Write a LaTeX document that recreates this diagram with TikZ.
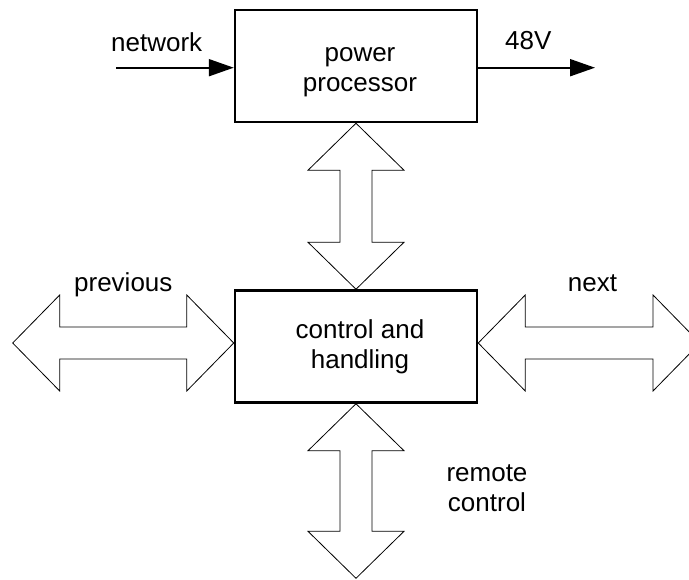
\documentclass[tikz,border=0pt]{standalone}
\usepackage{fontspec}
\setmainfont{Liberation Sans}
\usetikzlibrary{calc,arrows.meta}

\tikzset{
  block/.style={draw=black, line width=2.5pt, minimum width=242pt, minimum height=112pt, inner sep=0pt},
  lbl/.style={font=\fontsize{26}{30}\selectfont, inner sep=0pt, align=center},
  flow/.style={line width=2pt, -{Triangle[length=25pt,width=17pt]}},
  fat/.style={draw=black, line width=0.8pt, fill=white, line join=miter},
}

% Hollow double-headed arrow from #1 to #2; #3 prefixes helper coordinates
\newcommand\fatarrowpath[3]{%
  \coordinate (#3a) at ($(#1)!47pt!(#2)$);
  \coordinate (#3b) at ($(#2)!47pt!(#1)$);
  \draw[fat] (#1) -- ($(#3a)!48pt!90:(#2)$) -- ($(#3a)!16pt!90:(#2)$)
    -- ($(#3b)!16pt!-90:(#1)$) -- ($(#3b)!48pt!-90:(#1)$) -- (#2)
    -- ($(#3b)!48pt!90:(#1)$) -- ($(#3b)!16pt!90:(#1)$)
    -- ($(#3a)!16pt!-90:(#2)$) -- ($(#3a)!48pt!-90:(#2)$) -- cycle;
}

\begin{document}
\begin{tikzpicture}[x=1pt,y=-1pt]
\useasboundingbox (0,0) rectangle (689,580);
\clip (0,0) rectangle (689,580);

% the two blocks
\node[block] (pp) at (356,66) {};
\node[block] (ch) at (356,346.5) {};

% free ends of the connectors
\coordinate (netin) at (116,67.7);
\coordinate (vout) at (595,67.7);
\coordinate (prevend) at (12.7,343);
\coordinate (nextend) at (700,343);
\coordinate (chw) at (prevend -| ch.west);
\coordinate (che) at (nextend -| ch.east);
\coordinate (remend) at (356,578.3);

% power flow
\draw[flow] (netin) -- (netin -| pp.west);
\draw[flow] (netin -| pp.east) -- (vout);

% bidirectional data links
\fatarrowpath{prevend}{chw}{l}
\fatarrowpath{che}{nextend}{r}
\fatarrowpath{pp.south}{ch.north}{t}
\fatarrowpath{ch.south}{remend}{b}

% redraw block borders on top
\node[block] at (pp) {};
\node[block] at (ch) {};

% labels
\node[lbl] (pptext) at (360,72.7) {power\\processor};
\node[lbl] (chtext) at (360,346.3) {control and\\handling};
\node[lbl, anchor=base] (nettext) at (156.7,51.7) {network};
\node[lbl, anchor=base] (vtext) at (528.3,50) {48V};
\node[lbl, anchor=base] (prevtext) at (123.3,291.7) {previous};
\node[lbl, anchor=base] (nexttext) at (592.5,291.7) {next};
\node[lbl] (remtext) at (487,488) {remote\\control};
\end{tikzpicture}
\end{document}
